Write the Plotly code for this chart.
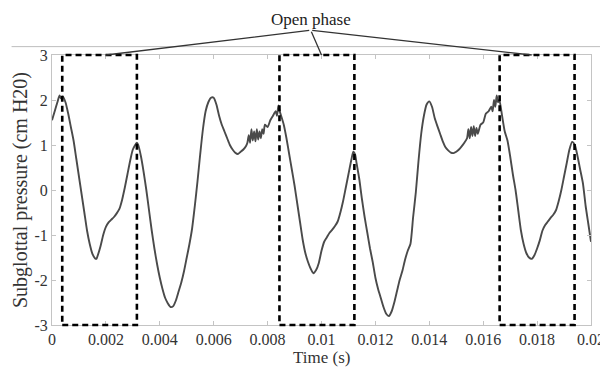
import plotly.graph_objects as go

# ---- data ----
time_s = [
    0.0000, 0.0001, 0.0002, 0.00028, 0.00034, 0.0004, 0.0005, 0.0006, 0.0007, 0.0008,
    0.0009, 0.0010, 0.0011, 0.0012, 0.0013, 0.0014, 0.0015, 0.0016, 0.00165, 0.0017,
    0.0018, 0.0019, 0.0020, 0.0021, 0.0022, 0.0023, 0.0024, 0.0025, 0.0026, 0.0027,
    0.0028, 0.0029, 0.0030, 0.00315, 0.0032, 0.0033, 0.0034, 0.0035, 0.0036, 0.0037,
    0.0038, 0.0039, 0.0040, 0.0041, 0.0042, 0.0043, 0.0044, 0.0045, 0.0046, 0.0047,
    0.0048, 0.0049, 0.0050, 0.0051, 0.0052, 0.0053, 0.0054, 0.0055, 0.0056, 0.0057,
    0.0058, 0.0059, 0.0060, 0.0061, 0.0062, 0.0063, 0.0064, 0.0065, 0.0066, 0.0067,
    0.0068, 0.0069, 0.0070, 0.0071, 0.0072, 0.00725, 0.0073, 0.00735, 0.0074, 0.00745,
    0.0075, 0.00755, 0.0076, 0.00765, 0.0077, 0.00775, 0.0078, 0.00785, 0.0079, 0.0080,
    0.0081, 0.0082, 0.0083, 0.00835, 0.0084, 0.00845, 0.0085, 0.0086, 0.0087, 0.0088,
    0.0089, 0.0090, 0.0091, 0.0092, 0.0093, 0.0094, 0.0095, 0.0096, 0.0097, 0.0098,
    0.0099, 0.0100, 0.0101, 0.0102, 0.0103, 0.0104, 0.0105, 0.0106, 0.0107, 0.0108,
    0.0109, 0.0110, 0.0111, 0.01118, 0.01125, 0.0113, 0.0114, 0.0115, 0.0116, 0.0117,
    0.0118, 0.0119, 0.0120, 0.0121, 0.0122, 0.0123, 0.0124, 0.0125, 0.0126, 0.0127,
    0.0128, 0.0129, 0.0130, 0.0131, 0.0132, 0.0133, 0.0134, 0.0135, 0.0136, 0.0137,
    0.0138, 0.0139, 0.0140, 0.0141, 0.0142, 0.0143, 0.0144, 0.0145, 0.0146, 0.0147,
    0.0148, 0.0149, 0.0150, 0.0151, 0.0152, 0.0153, 0.0154, 0.01545, 0.0155, 0.01555,
    0.0156, 0.01565, 0.0157, 0.01575, 0.0158, 0.0159, 0.0160, 0.0161, 0.0162, 0.0163,
    0.01635, 0.0164, 0.01645, 0.0165, 0.01655, 0.0166, 0.0167, 0.0168, 0.0169, 0.0170,
    0.0171, 0.0172, 0.0173, 0.0174, 0.0175, 0.0176, 0.0177, 0.0178, 0.0179, 0.0180,
    0.0181, 0.0182, 0.0183, 0.0184, 0.0185, 0.0186, 0.0187, 0.0188, 0.0189, 0.0190,
    0.0191, 0.0192, 0.0193, 0.0194, 0.0195, 0.0196, 0.0197, 0.0198, 0.0199, 0.0200,
]
pressure = [
    1.55, 1.75, 1.95, 2.10, 2.03, 2.08, 1.95, 1.70, 1.40, 1.10,
    0.70, 0.30, -0.10, -0.50, -0.90, -1.20, -1.42, -1.52, -1.53, -1.45,
    -1.25, -1.00, -0.82, -0.72, -0.66, -0.60, -0.52, -0.42, -0.22, 0.05,
    0.35, 0.65, 0.90, 1.05, 1.00, 0.75, 0.40, 0.00, -0.45, -0.90,
    -1.30, -1.65, -1.95, -2.20, -2.40, -2.52, -2.60, -2.58, -2.45, -2.25,
    -2.05, -1.80, -1.50, -1.20, -0.85, -0.35, 0.20, 0.80, 1.35, 1.75,
    1.95, 2.05, 2.05, 1.90, 1.65, 1.45, 1.30, 1.15, 1.00, 0.90,
    0.83, 0.80, 0.85, 0.90, 0.98, 1.05, 1.22, 1.05, 1.35, 1.10,
    1.30, 1.08, 1.35, 1.12, 1.30, 1.15, 1.35, 1.25, 1.45, 1.40,
    1.55, 1.65, 1.75, 1.65, 1.88, 1.75, 1.65, 1.45, 1.15, 0.80,
    0.45, 0.10, -0.30, -0.70, -1.10, -1.40, -1.60, -1.75, -1.85, -1.78,
    -1.62, -1.35, -1.15, -1.05, -0.95, -0.88, -0.80, -0.70, -0.50, -0.25,
    0.05, 0.35, 0.65, 0.85, 0.78, 0.60, 0.25, -0.20, -0.60, -0.95,
    -1.30, -1.60, -1.95, -2.20, -2.40, -2.60, -2.75, -2.80, -2.70, -2.50,
    -2.25, -2.00, -1.80, -1.55, -1.35, -1.20, -0.60, -0.05, 0.65, 1.25,
    1.65, 1.90, 1.97, 1.85, 1.60, 1.42, 1.25, 1.08, 0.95, 0.88,
    0.83, 0.82, 0.85, 0.90, 0.97, 1.05, 1.15, 1.35, 1.15, 1.40,
    1.20, 1.42, 1.20, 1.38, 1.25, 1.45, 1.50, 1.70, 1.75, 1.85,
    1.75, 2.00, 1.85, 2.10, 1.95, 2.00, 1.65, 1.30, 1.10, 0.75,
    0.35, 0.00, -0.45, -0.90, -1.20, -1.40, -1.50, -1.53, -1.45, -1.30,
    -1.12, -0.90, -0.78, -0.70, -0.62, -0.55, -0.45, -0.25, 0.00, 0.30,
    0.60, 0.90, 1.07, 1.00, 0.75, 0.45, 0.15, -0.35, -0.75, -1.15,
]

# open-phase windows (start, end) in seconds
open_start = [0.00038, 0.00844, 0.01661]
open_end = [0.00315, 0.01122, 0.01939]

# annotation: label anchor and the points on the top edge the lines point to
label_text = "Open phase"
label_time = 0.0096
apex_value = 3.55
pointer_times = [0.0020, 0.0100, 0.0178]

x_title = "Time (s)"
y_title = "Subglottal pressure (cm H20)"

x_ticks = [0, 0.002, 0.004, 0.006, 0.008, 0.01, 0.012, 0.014, 0.016, 0.018, 0.02]
x_tick_text = ["0", "0.002", "0.004", "0.006", "0.008", "0.01", "0.012", "0.014", "0.016", "0.018", "0.02"]
y_ticks = [-3, -2, -1, 0, 1, 2, 3]
y_tick_text = ["-3", "-2", "-1", "0", "1", "2", "3"]

FONT = "Liberation Serif"

fig = go.Figure()
fig.add_trace(go.Scatter(
    x=time_s, y=pressure, mode="lines",
    line=dict(color="#4a4a4a", width=1.9, shape="spline", smoothing=0.6),
    showlegend=False, hoverinfo="skip",
))

# dashed open-phase boxes
for a, b in zip(open_start, open_end):
    fig.add_shape(type="rect", xref="x", yref="paper", x0=a, x1=b, y0=0, y1=1,
                  line=dict(color="black", width=2.6, dash="6px,4px"),
                  fillcolor="rgba(0,0,0,0)", layer="above")

# thin grey line above the axes
fig.add_shape(type="line", xref="paper", yref="paper", x0=-0.075, x1=1.05,
              y0=1.031, y1=1.031, line=dict(color="#bdbdbd", width=1))

# pointer lines from the label to the boxes
for pt in pointer_times:
    fig.add_annotation(x=pt, y=3, xref="x", yref="y",
                       ax=label_time, ay=apex_value, axref="x", ayref="y",
                       text="", showarrow=True, arrowhead=0, arrowwidth=1.3,
                       arrowcolor="#333333", standoff=0, startstandoff=0)

fig.add_annotation(x=label_time, y=1.13, xref="x", yref="paper", text=label_text,
                   showarrow=False, font=dict(family=FONT, size=17, color="#222222"),
                   yanchor="middle")

# x-axis title placed as text below the tick labels
fig.add_annotation(x=0.5, y=-0.122, xref="paper", yref="paper", text=x_title,
                   showarrow=False, font=dict(family=FONT, size=17, color="#333333"),
                   yanchor="middle", xanchor="center")

axis_common = dict(
    showline=True, mirror="ticks", linecolor="#c4c4c4", linewidth=1,
    ticks="inside", ticklen=4, tickcolor="#c4c4c4",
    showgrid=False, zeroline=False, automargin=False,
    tickfont=dict(family=FONT, size=16, color="#333333"),
)

fig.update_xaxes(range=[0, 0.02], tickvals=x_ticks, ticktext=x_tick_text, **axis_common)
fig.update_yaxes(range=[-3, 3], tickvals=y_ticks, ticktext=y_tick_text,
                 title=dict(text=y_title,
                            font=dict(family=FONT, size=20, color="#333333"), standoff=1),
                 **axis_common)

# page body adds an 8px offset, so the figure is 600x360 inside a 608x368 window
fig.update_layout(
    width=600, height=360,
    margin=dict(l=44, r=17, t=47, b=43),
    paper_bgcolor="white", plot_bgcolor="white",
    showlegend=False,
)

fig.write_html("out.html")
